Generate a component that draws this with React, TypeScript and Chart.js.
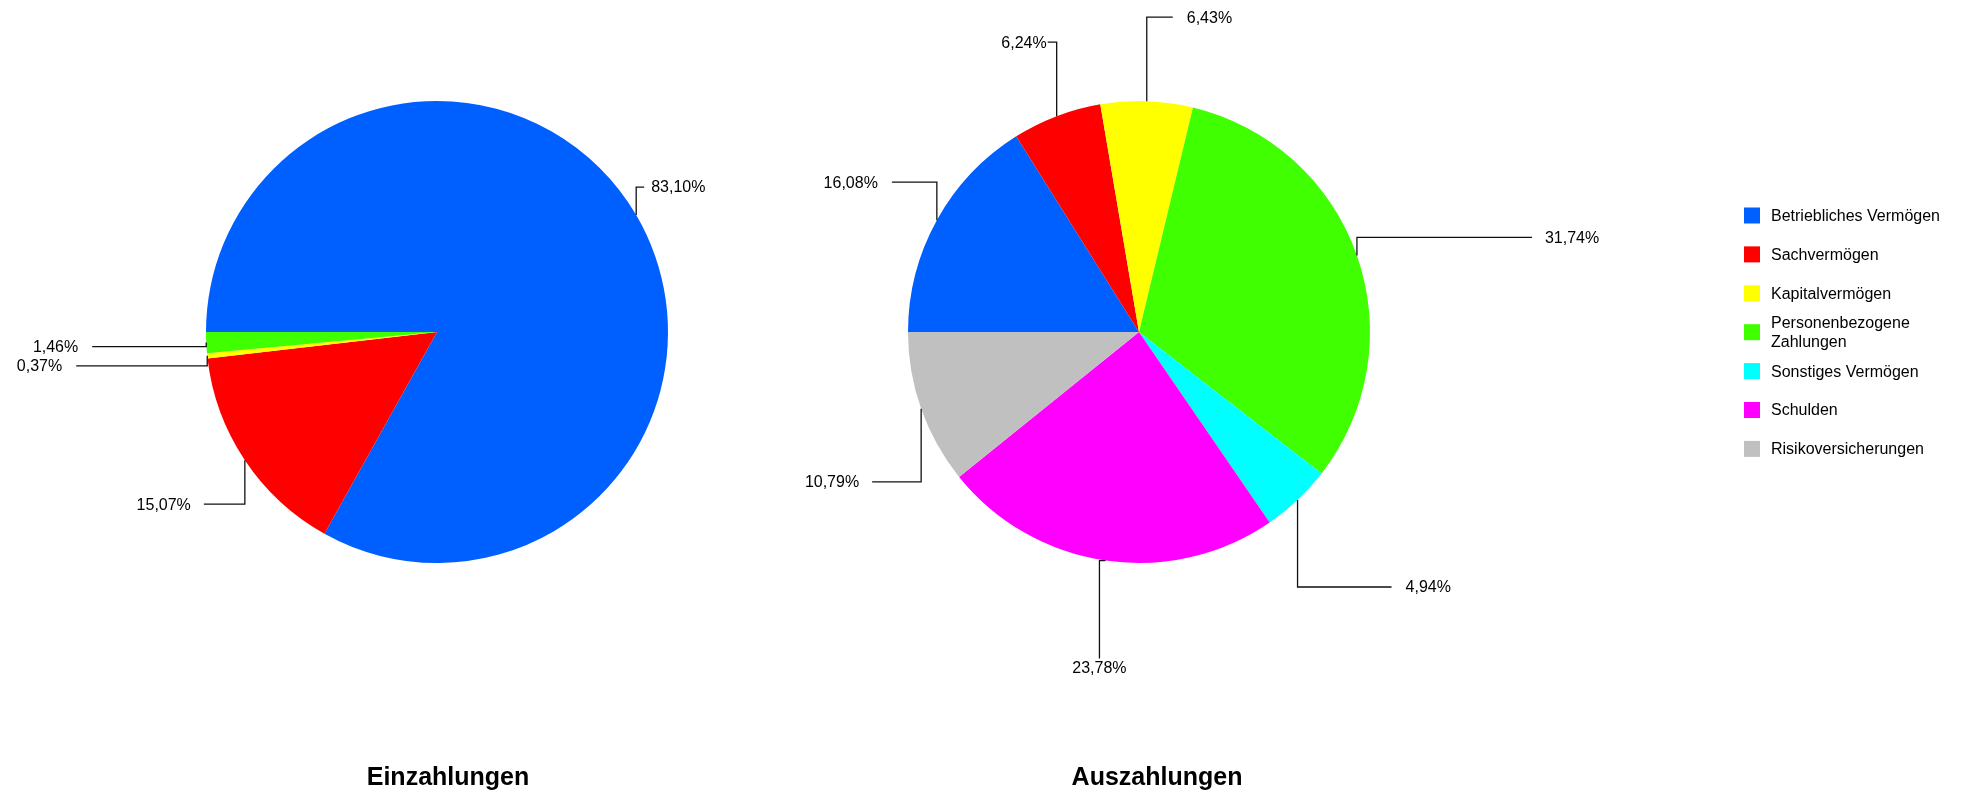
import React, { useEffect, useRef } from "react";
import { Chart, registerables } from "chart.js";

Chart.register(...registerables);

// ---- data ----
const CATEGORIES = [
  "Betriebliches Vermögen",
  "Sachvermögen",
  "Kapitalvermögen",
  "Personenbezogene Zahlungen",
  "Sonstiges Vermögen",
  "Schulden",
  "Risikoversicherungen",
];
const EINZAHLUNGEN = [83.1, 15.07, 0.37, 1.46];
const AUSZAHLUNGEN = [16.08, 6.24, 6.43, 31.74, 4.94, 23.78, 10.79];
const TITLE_LEFT = "Einzahlungen";
const TITLE_RIGHT = "Auszahlungen";

// ---- styles ----
const COLORS = ["#0060FF", "#FF0000", "#FFFF00", "#40FF00", "#00FFFF", "#FF00FF", "#C0C0C0"];
const FONT = '"Liberation Sans", Arial, Helvetica, sans-serif';

// leader-line layout per slice (pixels relative to slice mid-point on the rim)
const LEFT_CALLOUTS = [
  { dy: -28, dx: 8, gap: 7 },
  { dy: 44, dx: -41, gap: 13 },
  { dy: 10, dx: -131, gap: 14 },
  { dy: 4, dx: -114, gap: 14 },
];
const RIGHT_CALLOUTS = [
  { dy: -38, dx: -45, gap: 14 },
  { dy: -74, dx: -9, gap: 1 },
  { dy: -84, dx: 26, gap: 14 },
  { dy: -18, dx: 175, gap: 13 },
  { dy: 87, dx: 94, gap: 14 },
  { type: "hv", dx: -6, dy: 98, gap: 10 },
  { dy: 73, dx: -49, gap: 13 },
];

const fmt = (v: number) => v.toFixed(2).replace(".", ",") + "%";

const calloutPlugin = {
  id: "callouts",
  afterDatasetsDraw(chart: any, _args: any, opts: any) {
    const { ctx } = chart;
    const meta = chart.getDatasetMeta(0);
    const values = chart.data.datasets[0].data;
    const specs = opts.specs || [];
    ctx.save();
    ctx.font = `16px ${FONT}`;
    ctx.fillStyle = "#000";
    ctx.strokeStyle = "#111";
    ctx.lineWidth = 1.3;
    meta.data.forEach((arc: any, i: number) => {
      const v = values[i];
      const s = specs[i];
      if (!v || !s) return;
      const p = arc.getProps(["x", "y", "startAngle", "endAngle", "outerRadius"], true);
      const mid = (p.startAngle + p.endAngle) / 2;
      const ax = p.x + Math.cos(mid) * p.outerRadius;
      const ay = p.y + Math.sin(mid) * p.outerRadius;
      const text = fmt(v);
      ctx.beginPath();
      if (s.type === "hv") {
        const bx = ax + s.dx;
        const by = ay + s.dy;
        ctx.moveTo(ax, ay);
        ctx.lineTo(bx, ay);
        ctx.lineTo(bx, by);
        ctx.stroke();
        ctx.textAlign = "center";
        ctx.textBaseline = "middle";
        ctx.fillText(text, bx, by + s.gap);
      } else {
        const ey = ay + s.dy;
        const ex = ax + s.dx;
        ctx.moveTo(ax, ay);
        ctx.lineTo(ax, ey);
        ctx.lineTo(ex, ey);
        ctx.stroke();
        ctx.textAlign = s.dx >= 0 ? "left" : "right";
        ctx.textBaseline = "middle";
        ctx.fillText(text, ex + (s.dx >= 0 ? s.gap : -s.gap), ey + 1);
      }
    });
    // title under the pie
    ctx.font = `bold 25px ${FONT}`;
    ctx.textAlign = "center";
    ctx.textBaseline = "alphabetic";
    ctx.fillStyle = "#000";
    ctx.fillText(opts.title, opts.titleX, opts.titleY);
    ctx.restore();
  },
};

function wrap(ctx: CanvasRenderingContext2D, text: string, maxW: number): string[] {
  const words = text.split(" ");
  const lines: string[] = [];
  let cur = "";
  for (const w of words) {
    const t = cur ? cur + " " + w : w;
    if (cur && ctx.measureText(t).width > maxW) {
      lines.push(cur);
      cur = w;
    } else cur = t;
  }
  if (cur) lines.push(cur);
  return lines;
}

const sideLegendPlugin = {
  id: "sideLegend",
  afterDraw(chart: any, _args: any, opts: any) {
    if (!opts || !opts.show) return;
    const { ctx } = chart;
    const labels = chart.data.labels as string[];
    const colors = chart.data.datasets[0].backgroundColor as string[];
    ctx.save();
    ctx.font = `16px ${FONT}`;
    labels.forEach((lab, i) => {
      const cy = opts.top + i * opts.spacing;
      ctx.fillStyle = colors[i];
      ctx.fillRect(opts.x, cy - 8, 16, 16);
      const lines = wrap(ctx, lab, opts.maxWidth);
      ctx.fillStyle = "#000";
      ctx.textAlign = "left";
      ctx.textBaseline = "middle";
      lines.forEach((ln, k) => {
        ctx.fillText(ln, opts.x + 27, cy + 1 + (k - (lines.length - 1) / 2) * 19);
      });
    });
    ctx.restore();
  },
};

function makePie(
  canvas: HTMLCanvasElement,
  labels: string[],
  values: number[],
  padding: any,
  calloutOpts: any,
  legendOpts: any
) {
  return new Chart(canvas, {
    type: "pie",
    data: {
      labels,
      datasets: [
        {
          data: values,
          backgroundColor: COLORS.slice(0, values.length),
          borderWidth: 0,
        },
      ],
    },
    options: {
      responsive: false,
      maintainAspectRatio: false,
      animation: false,
      events: [],
      rotation: -90,
      radius: 231,
      layout: { padding },
      plugins: {
        legend: { display: false },
        tooltip: { enabled: false },
        title: { display: false },
        callouts: calloutOpts,
        sideLegend: legendOpts,
      } as any,
    } as any,
    plugins: [calloutPlugin, sideLegendPlugin],
  });
}

export default function App() {
  const leftRef = useRef<HTMLCanvasElement>(null);
  const rightRef = useRef<HTMLCanvasElement>(null);

  useEffect(() => {
    const c1 = makePie(
      leftRef.current!,
      CATEGORIES.slice(0, EINZAHLUNGEN.length),
      EINZAHLUNGEN,
      { left: 206, right: 92, top: 101, bottom: 231 },
      { specs: LEFT_CALLOUTS, title: TITLE_LEFT, titleX: 448, titleY: 785 },
      { show: false }
    );
    const c2 = makePie(
      rightRef.current!,
      CATEGORIES,
      AUSZAHLUNGEN,
      { left: 148, right: 596, top: 101, bottom: 231 },
      { specs: RIGHT_CALLOUTS, title: TITLE_RIGHT, titleX: 397, titleY: 785 },
      { show: true, x: 984, top: 215.5, spacing: 38.9, maxWidth: 185 }
    );
    return () => {
      c1.destroy();
      c2.destroy();
    };
  }, []);

  return (
    <div style={{ position: "absolute", left: 0, top: 0, width: 1966, height: 794, background: "#fff" }}>
      <canvas
        ref={leftRef}
        width={760}
        height={794}
        style={{ position: "absolute", left: 0, top: 0, width: 760, height: 794 }}
      />
      <canvas
        ref={rightRef}
        width={1206}
        height={794}
        style={{ position: "absolute", left: 760, top: 0, width: 1206, height: 794 }}
      />
    </div>
  );
}
